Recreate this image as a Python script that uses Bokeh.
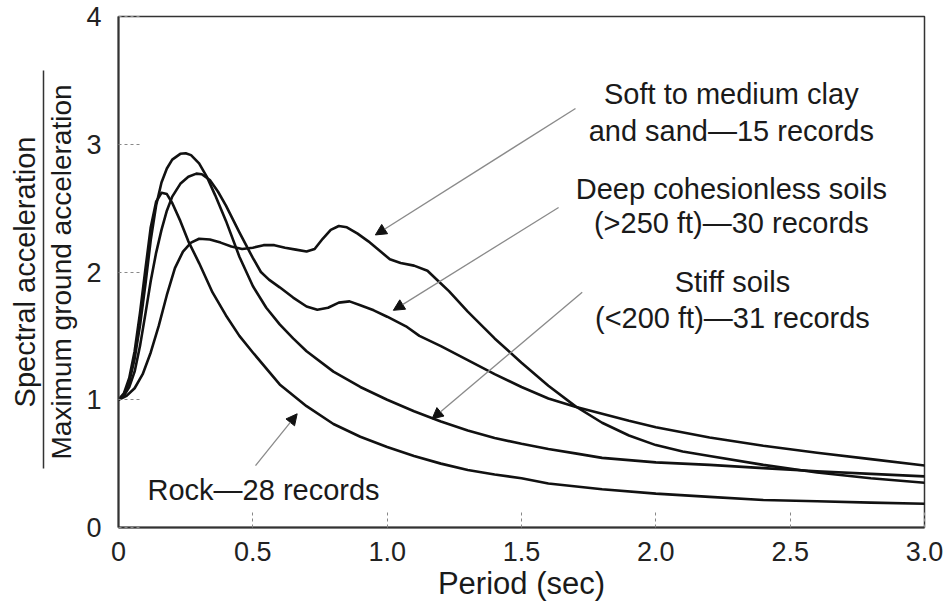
from bokeh.plotting import figure
from bokeh.models import Arrow, NormalHead, ColumnDataSource, FixedTicker, Range1d, LinearAxis
from bokeh.core.properties import value
from bokeh.embed import file_html
from bokeh.resources import INLINE

# ---------------- data ----------------
rock_T = [0.00, 0.02, 0.04, 0.06, 0.08, 0.10, 0.12, 0.14, 0.16, 0.18, 0.20, 0.23, 0.26, 0.30,
          0.35, 0.40, 0.45, 0.50, 0.60, 0.70, 0.80, 0.90, 1.00, 1.10, 1.20, 1.30, 1.40, 1.50,
          1.60, 1.80, 2.00, 2.20, 2.40, 2.60, 2.80, 3.00]
rock_S = [1.00, 1.05, 1.17, 1.38, 1.68, 2.02, 2.35, 2.55, 2.62, 2.61, 2.54, 2.40, 2.24, 2.07,
          1.84, 1.66, 1.50, 1.37, 1.12, 0.95, 0.81, 0.71, 0.63, 0.56, 0.50, 0.45, 0.415, 0.385,
          0.345, 0.30, 0.265, 0.24, 0.215, 0.205, 0.195, 0.186]

stiff_T = [0.00, 0.02, 0.04, 0.06, 0.08, 0.10, 0.12, 0.14, 0.16, 0.18, 0.20, 0.23, 0.25, 0.27,
           0.30, 0.33, 0.36, 0.40, 0.45, 0.50, 0.55, 0.60, 0.65, 0.70, 0.80, 0.90, 1.00, 1.10,
           1.20, 1.30, 1.40, 1.50, 1.60, 1.70, 1.80, 2.00, 2.20, 2.40, 2.60, 2.80, 3.00]
stiff_S = [1.00, 1.04, 1.14, 1.32, 1.58, 1.90, 2.25, 2.52, 2.70, 2.81, 2.88, 2.925, 2.93, 2.915,
           2.85, 2.74, 2.60, 2.40, 2.12, 1.89, 1.72, 1.59, 1.48, 1.38, 1.22, 1.10, 1.00, 0.91,
           0.83, 0.76, 0.70, 0.655, 0.615, 0.58, 0.545, 0.51, 0.49, 0.465, 0.44, 0.42, 0.40]

deep_T = [0.00, 0.02, 0.04, 0.06, 0.08, 0.10, 0.12, 0.14, 0.16, 0.18, 0.20, 0.23, 0.26, 0.29,
          0.31, 0.34, 0.37, 0.40, 0.45, 0.50, 0.53, 0.56, 0.60, 0.65, 0.70, 0.74, 0.78, 0.82,
          0.86, 0.90, 0.95, 1.00, 1.07, 1.12, 1.20, 1.30, 1.40, 1.50, 1.60, 1.70, 1.80, 1.90,
          2.00, 2.20, 2.40, 2.60, 2.80, 3.00]
deep_S = [1.00, 1.03, 1.10, 1.22, 1.42, 1.67, 1.93, 2.15, 2.33, 2.48, 2.59, 2.69, 2.745, 2.77,
          2.765, 2.72, 2.63, 2.52, 2.31, 2.11, 2.00, 1.94, 1.88, 1.80, 1.73, 1.705, 1.72, 1.76,
          1.77, 1.74, 1.70, 1.65, 1.575, 1.50, 1.42, 1.31, 1.20, 1.10, 1.01, 0.945, 0.89, 0.835,
          0.785, 0.705, 0.64, 0.585, 0.535, 0.485]

soft_T = [0.00, 0.03, 0.06, 0.09, 0.12, 0.15, 0.18, 0.21, 0.24, 0.27, 0.30, 0.34, 0.38, 0.42,
          0.46, 0.50, 0.54, 0.58, 0.62, 0.66, 0.70, 0.73, 0.76, 0.79, 0.82, 0.85, 0.89, 0.93,
          0.97, 1.01, 1.05, 1.10, 1.15, 1.19, 1.23, 1.30, 1.40, 1.50, 1.60, 1.70, 1.80, 1.90,
          2.00, 2.10, 2.20, 2.40, 2.60, 2.80, 3.00]
soft_S = [1.00, 1.03, 1.09, 1.20, 1.37, 1.58, 1.82, 2.03, 2.16, 2.23, 2.26, 2.255, 2.23, 2.20,
          2.18, 2.19, 2.21, 2.21, 2.19, 2.175, 2.16, 2.18, 2.26, 2.33, 2.36, 2.35, 2.30, 2.24,
          2.17, 2.10, 2.07, 2.05, 2.01, 1.93, 1.85, 1.69, 1.48, 1.29, 1.11, 0.95, 0.82, 0.72,
          0.645, 0.595, 0.56, 0.49, 0.43, 0.385, 0.35]

x_ticks = [0, 0.5, 1.0, 1.5, 2.0, 2.5, 3.0]
x_tick_labels = ["0", "0.5", "1.0", "1.5", "2.0", "2.5", "3.0"]
y_ticks = [0, 1, 2, 3, 4]
y_tick_labels = ["0", "1", "2", "3", "4"]

x_title = "Period (sec)"
y_title_num = "Spectral acceleration"
y_title_den = "Maximum ground acceleration"
y_fraction_bar = (0.46, 3.58)   # extent of the fraction bar, in y data units

# annotation texts (one entry per line) and their anchor points in data units
note_texts = ["Soft to medium clay", "and sand\u201415 records",
              "Deep cohesionless soils", "(>250 ft)\u201430 records",
              "Stiff soils", "(<200 ft)\u201431 records",
              "Rock\u201428 records"]
note_x = [2.281, 2.281, 2.281, 2.281, 2.285, 2.285, 0.54]
note_y = [3.39, 3.105, 2.65, 2.385, 1.925, 1.64, 0.295]

# arrows: start (near text) -> end (on curve)
arrow_x0 = [1.701, 1.638, 1.726, 0.51]
arrow_y0 = [3.28, 2.505, 1.842, 0.485]
arrow_x1 = [0.956, 1.023, 1.167, 0.665]
arrow_y1 = [2.29, 1.70, 0.85, 0.89]

FONT = "Liberation Sans"
INK = "#1a1a1a"

p = figure(width=947, height=603, x_range=Range1d(0, 3), y_range=Range1d(0, 4),
           output_backend="svg", toolbar_location=None,
           min_border_left=118, min_border_right=23, min_border_top=16, min_border_bottom=76,
           background_fill_color="white", border_fill_color="white")
p.grid.visible = False
p.outline_line_color = "#333333"
p.outline_line_width = 1.5

for ax in p.axis:
    ax.major_tick_out = 0
    ax.minor_tick_line_color = None
    ax.major_tick_line_color = "#888888"
    ax.major_tick_line_width = 1
    ax.major_tick_line_dash = "3 3"
    ax.axis_line_color = "#333333"
    ax.axis_line_width = 2
    ax.major_label_text_font = FONT
    ax.major_label_text_font_size = "27px"
    ax.major_label_text_color = "#222222"
    ax.axis_label_text_font = FONT
    ax.axis_label_text_font_style = "normal"
    ax.axis_label_text_color = INK

p.xaxis.ticker = FixedTicker(ticks=x_ticks)
p.xaxis.major_label_overrides = {t: s for t, s in zip(x_ticks, x_tick_labels)}
p.xaxis.major_tick_in = 18
p.xaxis.major_label_standoff = 14
p.xaxis.axis_label = x_title
p.xaxis.axis_label_text_font_size = "31px"
p.xaxis.axis_label_standoff = 2

p.yaxis.ticker = FixedTicker(ticks=y_ticks)
p.yaxis.major_label_overrides = {t: s for t, s in zip(y_ticks, y_tick_labels)}
p.yaxis.major_tick_in = 23
p.yaxis.major_label_standoff = 17
p.yaxis.axis_label = y_title_den
p.yaxis.axis_label_text_font_size = "28px"
p.yaxis.axis_label_standoff = 6

# outer axis: its line is the fraction bar, its label is the numerator
bar_axis = LinearAxis(bounds=y_fraction_bar, ticker=FixedTicker(ticks=[]),
                      major_tick_in=0, major_tick_out=0, minor_tick_in=0, minor_tick_out=0,
                      major_label_standoff=0, major_label_text_font_size="0px",
                      axis_line_color="#333333", axis_line_width=1.5,
                      axis_label=y_title_num, axis_label_standoff=3,
                      axis_label_text_font=FONT, axis_label_text_font_size="29px",
                      axis_label_text_font_style="normal", axis_label_text_color=INK)
p.add_layout(bar_axis, "left")

for T, S in [(rock_T, rock_S), (stiff_T, stiff_S), (deep_T, deep_S), (soft_T, soft_S)]:
    p.line(T, S, line_color="#111111", line_width=2.6, line_join="round", line_cap="round")

arrow_src = ColumnDataSource(dict(x0=arrow_x0, y0=arrow_y0, x1=arrow_x1, y1=arrow_y1))
p.add_layout(Arrow(x_start="x0", y_start="y0", x_end="x1", y_end="y1", source=arrow_src,
                   line_color="#8a8a8a", line_width=1.3,
                   end=NormalHead(size=11, fill_color="#111111", line_color="#111111",
                                  line_width=1)))

note_src = ColumnDataSource(dict(x=note_x, y=note_y, text=note_texts))
p.text(x="x", y="y", text="text", source=note_src, text_font=value(FONT),
       text_font_size="29px", text_color=INK, text_align="center",
       text_baseline="alphabetic")

open("out.html", "w").write(file_html(p, INLINE))
